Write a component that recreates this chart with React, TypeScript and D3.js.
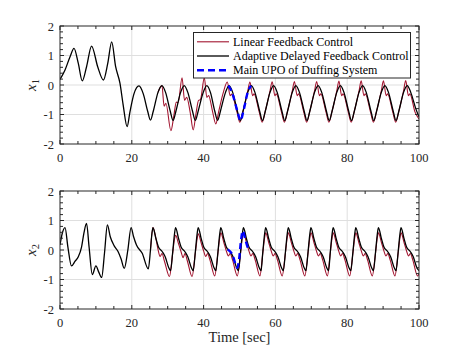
import React from "react";
import * as d3 from "d3";

type Pt = [number, number];

// tick values
const xTicks = [0, 20, 40, 60, 80, 100];
const yTicks = [-2, -1, 0, 1, 2];

// legend labels
const legendLabels = [
  "Linear Feedback Control",
  "Adaptive Delayed Feedback Control",
  "Main UPO of Duffing System",
];

// x1, adaptive delayed feedback (black)
const adaptiveX1: Pt[] = [
  [0, 0.19], [1.4, 0.51], [2.8, 0.96], [3.9, 1.24], [5.1, 0.73], [6.2, 0.14], [7.4, 0.62],
  [8.8, 1.32], [10.5, 0.62], [12.1, 0.17], [13.3, 0.73], [14.4, 1.46], [15.5, 0.62], [16.7, 0.06],
  [17.6, -0.68], [18.7, -1.41], [19.5, -0.9], [20.6, -0.3], [22.0, -0.03], [23.2, -0.3],
  [24.4, -0.88], [25.2, -1.19], [26.0, -0.88], [27.3, -0.25], [28.4, -0.02],
  [29.4, -0.25], [30.7, -0.88], [31.5, -1.2], [32.3, -0.88], [33.6, -0.25], [34.6, -0.02],
  [35.6, -0.25], [36.9, -0.88], [37.7, -1.2], [38.5, -0.88], [39.9, -0.25], [40.9, -0.02],
  [41.9, -0.25], [43.1, -0.88], [43.9, -1.2], [44.7, -0.88], [46.1, -0.25], [47.1, -0.02],
  [48.1, -0.25], [49.4, -0.88], [50.2, -1.21], [51.0, -0.88], [52.3, -0.25], [53.3, -0.02],
  [54.3, -0.25], [55.6, -0.88], [56.4, -1.21], [57.2, -0.88], [58.5, -0.25], [59.5, -0.02],
  [60.5, -0.25], [61.8, -0.88], [62.6, -1.21], [63.4, -0.88], [64.7, -0.25], [65.7, -0.02],
  [66.7, -0.25], [68.0, -0.88], [68.8, -1.21], [69.6, -0.88], [70.9, -0.25], [71.9, -0.02],
  [72.9, -0.25], [74.2, -0.88], [75.0, -1.21], [75.8, -0.88], [77.1, -0.25], [78.1, -0.02],
  [79.1, -0.25], [80.4, -0.88], [81.2, -1.21], [82.0, -0.88], [83.3, -0.25], [84.3, -0.02],
  [85.3, -0.25], [86.6, -0.88], [87.4, -1.21], [88.2, -0.88], [89.5, -0.25], [90.5, -0.02],
  [91.5, -0.25], [92.8, -0.88], [93.6, -1.21], [94.4, -0.88], [95.7, -0.25], [96.7, -0.02],
  [97.7, -0.25], [99.1, -0.8], [100, -1.08],
];

// x1, linear feedback (red)
const linearX1: Pt[] = [
  [27.3, -0.25], [28.4, -0.02], [29.0, -0.72], [29.5, -0.62], [30.9, -1.55], [31.7, -1.05],
  [32.4, -0.58], [32.9, -0.6], [34.0, 0.24], [34.7, -0.52], [35.3, -0.42], [36.3, -0.95],
  [37.1, -1.52], [37.9, -0.95], [38.6, -0.52], [39.1, -0.5], [40.2, 0.24], [40.9, -0.42],
  [41.4, -0.36], [42.5, -0.9], [43.4, -1.32], [44.2, -0.9], [45.5, -0.25], [46.6, 0.1],
  [47.4, -0.36], [47.8, -0.31], [49.3, -0.92], [50.1, -1.26], [51.0, -0.88], [52.3, -0.2],
  [52.9, 0.1], [53.65, -0.36], [54.05, -0.3], [55.5, -0.92], [56.3, -1.26], [57.2, -0.88],
  [58.5, -0.2], [59.1, 0.11], [59.85, -0.36], [60.25, -0.3], [61.7, -0.92], [62.5, -1.26],
  [63.4, -0.88], [64.7, -0.2], [65.3, 0.12], [66.05, -0.36], [66.45, -0.3], [67.9, -0.92],
  [68.7, -1.26], [69.6, -0.88], [70.9, -0.2], [71.5, 0.12], [72.25, -0.36], [72.65, -0.3],
  [74.1, -0.92], [74.9, -1.26], [75.8, -0.88], [77.1, -0.2], [77.7, 0.13], [78.45, -0.36],
  [78.85, -0.3], [80.3, -0.92], [81.1, -1.26], [82.0, -0.88], [83.3, -0.2], [83.9, 0.14],
  [84.65, -0.36], [85.05, -0.3], [86.5, -0.92], [87.3, -1.26], [88.2, -0.88], [89.5, -0.2],
  [90.1, 0.14], [90.85, -0.36], [91.25, -0.3], [92.7, -0.92], [93.5, -1.26], [94.4, -0.88],
  [95.7, -0.2], [96.3, 0.15], [97.05, -0.36], [97.45, -0.3], [98.9, -0.92], [100, -1.15],
];

// x1, main UPO (blue)
const upoX1: Pt[] = [
  [46.9, -0.02], [47.9, -0.25], [49.4, -0.88], [50.3, -1.21], [51.1, -0.88], [52.3, -0.25], [53.2, -0.02],
];

// x2, adaptive delayed feedback (black)
const adaptiveX2: Pt[] = [
  [0, 0.17], [0.6, 0.55], [1.4, 0.76], [2.2, 0.1], [3.2, -0.54], [4.2, -0.38], [5.1, -0.23],
  [6.0, 0.1], [6.7, 0.6], [7.4, 0.9], [8.1, 0.1], [9.0, -0.83], [10.0, -0.54], [10.8, -0.75],
  [11.6, -0.93], [12.4, -0.1], [13.2, 0.85], [14.0, 0.45], [15.1, 0.14], [16.2, -0.06],
  [17.0, -0.3], [17.9, -0.62], [18.9, 0.0], [19.8, 0.76], [20.5, 0.45], [21.3, 0.17],
  [22.9, -0.11], [24.6, -0.64], [25.2, 0.0], [25.6, 0.55], [25.9, 0.76],
  [26.7, 0.4], [27.4, 0.11], [28.5, -0.06], [29.3, -0.23], [30.3, -0.6], [30.8, -0.7], [31.4, -0.06], [31.9, 0.55], [32.2, 0.76],
  [33.0, 0.4], [33.7, 0.11], [34.8, -0.06], [35.6, -0.23], [36.6, -0.6], [37.1, -0.7], [37.7, -0.06], [38.2, 0.55], [38.5, 0.76],
  [39.3, 0.4], [40.0, 0.11], [41.1, -0.06], [41.9, -0.23], [42.9, -0.6], [43.4, -0.7], [44.0, -0.06], [44.5, 0.55], [44.8, 0.76],
  [45.6, 0.4], [46.3, 0.11], [47.4, -0.06], [48.2, -0.23], [49.2, -0.6], [49.7, -0.7], [50.3, -0.06], [50.8, 0.55], [51.1, 0.76],
  [51.9, 0.4], [52.6, 0.11], [53.7, -0.06], [54.5, -0.23], [55.5, -0.6], [56.0, -0.7], [56.5, -0.06], [57.0, 0.55], [57.3, 0.76],
  [58.1, 0.4], [58.8, 0.11], [59.9, -0.06], [60.7, -0.23], [61.7, -0.6], [62.2, -0.7], [62.8, -0.06], [63.3, 0.55], [63.6, 0.76],
  [64.4, 0.4], [65.1, 0.11], [66.2, -0.06], [67.0, -0.23], [68.0, -0.6], [68.5, -0.7], [69.1, -0.06], [69.6, 0.55], [69.9, 0.76],
  [70.7, 0.4], [71.4, 0.11], [72.5, -0.06], [73.3, -0.23], [74.3, -0.6], [74.8, -0.7], [75.3, -0.06], [75.8, 0.55], [76.1, 0.76],
  [76.9, 0.4], [77.6, 0.11], [78.7, -0.06], [79.5, -0.23], [80.5, -0.6], [81.0, -0.7], [81.6, -0.06], [82.1, 0.55], [82.4, 0.76],
  [83.2, 0.4], [83.9, 0.11], [85.0, -0.06], [85.8, -0.23], [86.8, -0.6], [87.3, -0.7], [87.9, -0.06], [88.4, 0.55], [88.7, 0.76],
  [89.5, 0.4], [90.2, 0.11], [91.3, -0.06], [92.1, -0.23], [93.1, -0.6], [93.6, -0.7], [94.2, -0.06], [94.7, 0.55], [95.0, 0.76],
  [95.8, 0.4], [96.5, 0.11], [97.6, -0.06], [98.4, -0.23], [99.4, -0.6], [100, -0.7],
];

// x2, linear feedback (red)
const linearX2: Pt[] = [
  [25.2, 0.0], [25.9, 0.76], [26.7, 0.4], [27.3, 0.02], [27.9, -0.22], [28.4, -0.12], [29.1, -0.38],
  [30.5, -0.9], [31.3, -0.2], [31.9, 0.38], [32.2, 0.5],
  [33.0, 0.22], [33.7, -0.05], [34.3, -0.26], [34.8, -0.12], [35.5, -0.38], [36.8, -0.9], [37.6, -0.2], [38.2, 0.38], [38.5, 0.55],
  [39.3, 0.25], [40.0, -0.03], [40.6, -0.22], [41.1, -0.12], [41.8, -0.35], [43.1, -0.88], [43.9, -0.2], [44.5, 0.42], [44.8, 0.58],
  [45.6, 0.27], [46.3, -0.02], [46.9, -0.2], [47.4, -0.12], [48.1, -0.35], [49.4, -0.88], [50.2, -0.2], [50.8, 0.42], [51.1, 0.58],
  [51.9, 0.27], [52.6, -0.02], [53.2, -0.2], [53.7, -0.12], [54.4, -0.35], [55.7, -0.88], [56.4, -0.2], [57.0, 0.42], [57.3, 0.58],
  [58.1, 0.27], [58.8, -0.02], [59.4, -0.2], [59.9, -0.12], [60.6, -0.35], [61.9, -0.88], [62.7, -0.2], [63.3, 0.42], [63.6, 0.58],
  [64.4, 0.27], [65.1, -0.02], [65.7, -0.2], [66.2, -0.12], [66.9, -0.35], [68.2, -0.88], [69.0, -0.2], [69.6, 0.42], [69.9, 0.58],
  [70.7, 0.27], [71.4, -0.02], [72.0, -0.2], [72.5, -0.12], [73.2, -0.35], [74.5, -0.88], [75.2, -0.2], [75.8, 0.42], [76.1, 0.58],
  [76.9, 0.27], [77.6, -0.02], [78.2, -0.2], [78.7, -0.12], [79.4, -0.35], [80.7, -0.88], [81.5, -0.2], [82.1, 0.42], [82.4, 0.58],
  [83.2, 0.27], [83.9, -0.02], [84.5, -0.2], [85.0, -0.12], [85.7, -0.35], [87.0, -0.88], [87.8, -0.2], [88.4, 0.42], [88.7, 0.58],
  [89.5, 0.27], [90.2, -0.02], [90.8, -0.2], [91.3, -0.12], [92.0, -0.35], [93.3, -0.88], [94.1, -0.2], [94.7, 0.42], [95.0, 0.58],
  [95.8, 0.27], [96.5, -0.02], [97.1, -0.2], [97.6, -0.12], [98.3, -0.35], [99.6, -0.88], [100, -0.8],
];

// x2, main UPO (blue)
const upoX2: Pt[] = [
  [46.7, 0.02], [47.4, -0.05], [48.1, -0.18], [48.8, -0.45], [49.4, -0.6], [49.9, -0.3],
  [50.4, 0.3], [50.9, 0.65], [51.5, 0.42], [52.2, 0.12], [53.0, 0.0],
];

const RED = "#A2142F";
const BLUE = "#0000FF";
const AXIS = "#262626";
const GRID = "#dfdfdf";
const FONT = "Liberation Serif, Times New Roman, serif";

const x = d3.scaleLinear().domain([0, 100]).range([60, 419]);

const Panel = ({ top, bottom, id, label, sub, red, black, blue }) => {
  const y = d3.scaleLinear().domain([-2, 2]).range([bottom, top]);
  const line = d3
    .line<Pt>()
    .x((d) => x(d[0]))
    .y((d) => y(d[1]))
    .curve(d3.curveMonotoneX);
  const xMinor = d3.range(0, 101, 5);
  const yMinor = d3.range(-2, 2.001, 0.2);
  const [x0, x1] = x.range();
  return (
    <g>
      <defs>
        <clipPath id={id}>
          <rect x={x0} y={top} width={x1 - x0} height={bottom - top} />
        </clipPath>
      </defs>
      {/* grid */}
      {xTicks.slice(1, -1).map((t) => (
        <line key={"gx" + t} x1={x(t)} x2={x(t)} y1={top} y2={bottom} stroke={GRID} />
      ))}
      {yTicks.slice(1, -1).map((t) => (
        <line key={"gy" + t} x1={x0} x2={x1} y1={y(t)} y2={y(t)} stroke={GRID} />
      ))}
      {/* series */}
      <g clipPath={`url(#${id})`} fill="none">
        <path d={line(red)} stroke={RED} strokeWidth={1.1} />
        <path d={line(black)} stroke="#000" strokeWidth={1.3} />
        <path d={line(blue)} stroke={BLUE} strokeWidth={2.4} strokeDasharray="6,4" />
      </g>
      {/* ticks */}
      {xMinor.map((t) => {
        const len = t % 20 === 0 ? 4 : 3;
        return (
          <g key={"tx" + t} stroke={AXIS}>
            <line x1={x(t)} x2={x(t)} y1={bottom} y2={bottom - len} />
            <line x1={x(t)} x2={x(t)} y1={top} y2={top + len} />
          </g>
        );
      })}
      {yMinor.map((t, i) => {
        const len = i % 5 === 0 ? 4 : 3;
        return (
          <g key={"ty" + i} stroke={AXIS}>
            <line x1={x0} x2={x0 + len} y1={y(t)} y2={y(t)} />
            <line x1={x1} x2={x1 - len} y1={y(t)} y2={y(t)} />
          </g>
        );
      })}
      <rect x={x0} y={top} width={x1 - x0} height={bottom - top} fill="none" stroke={AXIS} strokeWidth={1} />
      {/* tick labels */}
      {xTicks.map((t) => (
        <text key={"lx" + t} x={x(t)} y={bottom + 18} textAnchor="middle" fontSize={12.5} fontFamily={FONT} fill={AXIS}>
          {t}
        </text>
      ))}
      {yTicks.map((t) => (
        <text key={"ly" + t} x={54} y={y(t) + 4.5} textAnchor="end" fontSize={12.5} fontFamily={FONT} fill={AXIS}>
          {t}
        </text>
      ))}
      <text
        transform={`translate(36,${(top + bottom) / 2}) rotate(-90)`}
        textAnchor="middle"
        fontSize={15}
        fontFamily={FONT}
        fill={AXIS}
      >
        <tspan fontStyle="italic">{label}</tspan>
        <tspan fontSize={10.5} dy={3}>{sub}</tspan>
      </text>
    </g>
  );
};

const Legend = () => {
  const rows = [
    { color: RED, w: 1.1, dash: undefined },
    { color: "#000", w: 1.3, dash: undefined },
    { color: BLUE, w: 2.4, dash: "7,4" },
  ];
  return (
    <g>
      <rect x={193.5} y={32.5} width={217} height={45.5} fill="#fff" stroke={AXIS} strokeWidth={1} />
      {legendLabels.map((lab, i) => {
        const yy = 41.8 + i * 14.2;
        return (
          <g key={lab}>
            <line x1={197} x2={229} y1={yy} y2={yy} stroke={rows[i].color} strokeWidth={rows[i].w} strokeDasharray={rows[i].dash} />
            <text x={233} y={yy + 4} fontSize={12} fontFamily={FONT} fill="#000">
              {lab}
            </text>
          </g>
        );
      })}
    </g>
  );
};

export default function App() {
  return (
    <svg
      width={463}
      height={348}
      style={{ position: "absolute", left: 0, top: 0, background: "#fff" }}
    >
      <rect width={463} height={348} fill="#fff" />
      <Panel top={26} bottom={144} id="clip1" label="x" sub="1" red={linearX1} black={adaptiveX1} blue={upoX1} />
      <Panel top={191} bottom={309} id="clip2" label="x" sub="2" red={linearX2} black={adaptiveX2} blue={upoX2} />
      <Legend />
      <text x={(x(0) + x(100)) / 2} y={342} textAnchor="middle" fontSize={14.5} fontFamily={FONT} fill={AXIS}>
        Time [sec]
      </text>
    </svg>
  );
}
